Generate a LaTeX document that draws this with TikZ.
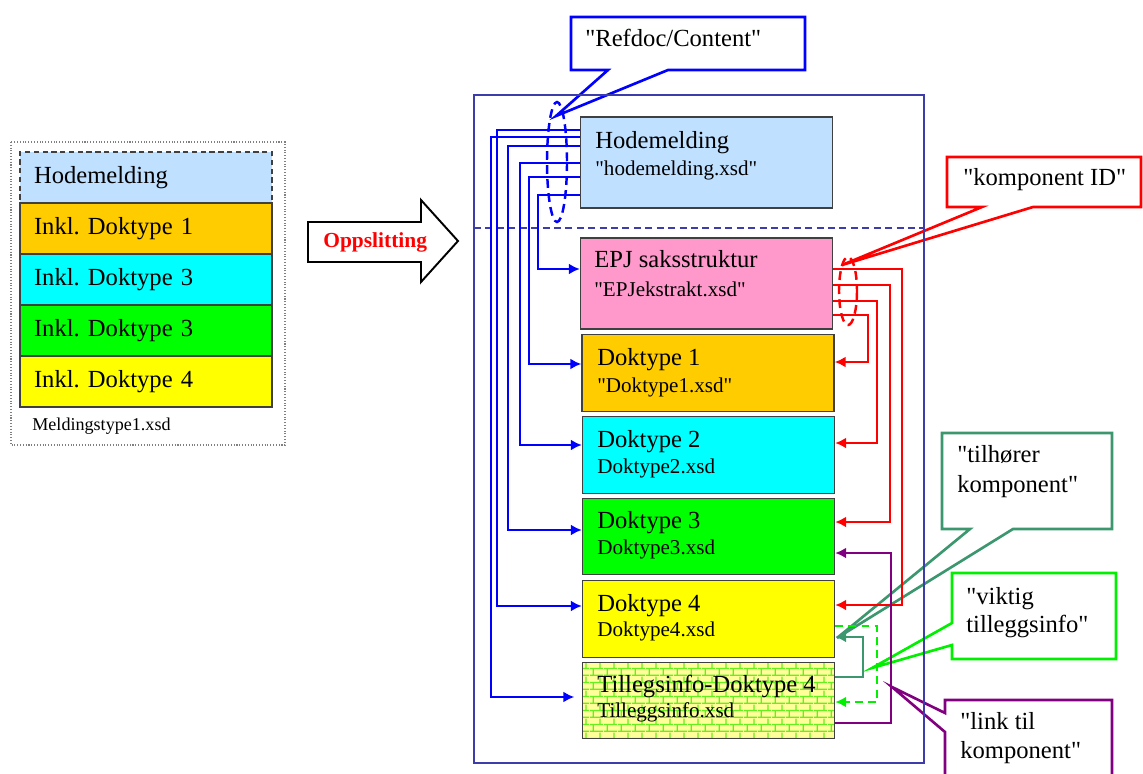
\documentclass[tikz,border=0pt]{standalone}
\usepackage{fontspec}
\setmainfont{Liberation Serif}[Ligatures=TeXOff]
\usetikzlibrary{arrows.meta,patterns.meta}

\definecolor{hodeblue}{RGB}{192,224,255}
\definecolor{epjpink}{RGB}{255,153,204}
\definecolor{dokorange}{RGB}{255,204,0}
\definecolor{dokcyan}{RGB}{0,255,255}
\definecolor{dokgreen}{RGB}{0,255,0}
\definecolor{dokyellow}{RGB}{255,255,0}
\definecolor{palebrick}{RGB}{255,255,153}
\definecolor{brickline}{RGB}{100,240,30}
\definecolor{frameblue}{RGB}{60,60,170}
\definecolor{linkblue}{RGB}{0,0,255}
\definecolor{linkred}{RGB}{255,0,0}
\definecolor{tealgreen}{RGB}{60,150,110}
\definecolor{infogreen}{RGB}{0,240,0}
\definecolor{linkpurple}{RGB}{128,0,128}

\tikzdeclarepattern{
  name=smallbricks,
  type=uncolored,
  bounding box={(0pt,0pt) and (8pt,8pt)},
  tile size={(8pt,8pt)},
  code={
    \draw[line width=0.8pt] (0pt,0.5pt) -- (8pt,0.5pt) (0pt,4.5pt) -- (8pt,4.5pt)
      (2pt,0.5pt) -- (2pt,4.5pt) (6pt,4.5pt) -- (6pt,8pt) (6pt,0pt) -- (6pt,0.5pt);
  }
}

\begin{document}
\begin{tikzpicture}[x=0.02cm,y=-0.02cm,>={Latex[length=2.2mm,width=2.2mm]},
  box/.style={draw=black!75,line width=0.8pt,inner sep=0pt,minimum width=5.04cm},
  lbox/.style={box,minimum height=1.02cm,text width=4.48cm,align=left,font=\fontsize{14}{16}\selectfont},
  rbox/.style={box,minimum height=1.53cm},
  ttl/.style={font=\fontsize{14}{16}\selectfont,inner sep=0pt,anchor=base west},
  sub/.style={font=\fontsize{12}{14}\selectfont,inner sep=0pt,anchor=base west},
  callout/.style={line width=1.5pt,fill=white},
  bluelink/.style={draw=linkblue,line width=1.6pt,->},
  redlink/.style={draw=linkred,line width=1.6pt,->}]
\useasboundingbox (0,0) rectangle (1143,774);

% callouts
\draw[callout,draw=linkblue] (571,17) -- (805,17) -- (805,70) -- (668,70) -- (556,116)
  -- (608,70) -- (571,70) -- cycle;
\draw[callout,draw=linkred] (947,157) -- (1141,157) -- (1141,207) -- (1033,207) -- (842,265)
  -- (982,207) -- (947,207) -- cycle;
\draw[callout,draw=tealgreen] (942,433) -- (1112,433) -- (1112,529) -- (1013,529) -- (837,638)
  -- (970,529) -- (942,529) -- cycle;
\draw[callout,draw=infogreen] (952,573) -- (1116,573) -- (1116,659) -- (952,659) -- (952,645)
  -- (872,668) -- (952,623) -- cycle;
\draw[line width=1.5pt,draw=linkpurple] (945,774) -- (945,732) -- (892,687) -- (945,713)
  -- (945,700) -- (1112,700) -- (1112,774);
\node[ttl] (cRef) at (585,47) {"Refdoc/Content"};
\node[ttl] (cId) at (963,185) {"komponent ID"};
\node[ttl] (cTil1) at (957,462) {"tilhører};
\node[ttl] (cTil2) at (957,492) {komponent"};
\node[ttl] (cVik1) at (966,604) {"viktig};
\node[ttl] (cVik2) at (966,632) {tilleggsinfo"};
\node[ttl] (cLink1) at (960,729) {"link til};
\node[ttl] (cLink2) at (960,758) {komponent"};

% left message
\draw[gray,densely dotted,line width=0.6pt] (11,142) rectangle (285,445);
\node[lbox,fill=hodeblue,dash pattern=on 3pt off 2pt] (lHode) at (146,177.5) {Hodemelding};
\node[lbox,fill=dokorange] (lDok1) at (146,228.5) {Inkl.\ Doktype 1};
\node[lbox,fill=dokcyan] (lDok2) at (146,279.5) {Inkl.\ Doktype 3};
\node[lbox,fill=dokgreen] (lDok3) at (146,330.5) {Inkl.\ Doktype 3};
\node[lbox,fill=dokyellow] (lDok4) at (146,381.5) {Inkl.\ Doktype 4};
\node[sub,font=\fontsize{10.3}{12}\selectfont] (lName) at (32,430) {Meldingstype1.xsd};

% split arrow
\draw[line width=1.1pt,fill=white] (308,222) -- (421,222) -- (421,200) -- (458,241)
  -- (421,282) -- (421,262) -- (308,262) -- cycle;
\node[ttl,font=\fontsize{12.2}{14}\selectfont\bfseries,text=red] (split) at (323,247) {Oppslitting};

% container
\draw[frameblue,line width=0.7pt] (474,95) rectangle (924,763);
\draw[frameblue,line width=0.7pt,dash pattern=on 4pt off 2.5pt] (474,228) -- (924,228);

% right boxes
\node[box,fill=hodeblue,minimum height=1.82cm] (hode) at (706.5,162.5) {};
\node[box,fill=epjpink,minimum height=1.82cm] (epj) at (706.5,283.5) {};
\node[rbox,fill=dokorange] (dok1) at (708,373) {};
\node[rbox,fill=dokcyan] (dok2) at (708.5,455) {};
\node[rbox,fill=dokgreen] (dok3) at (708.5,536.5) {};
\node[rbox,fill=dokyellow] (dok4) at (708.5,619) {};
\node[rbox,preaction={fill=palebrick},pattern=smallbricks,pattern color=brickline] (till) at (708.5,700.5) {};
\node[ttl] (hodeT) at (595,148) {Hodemelding};
\node[sub] (hodeS) at (595,175) {"hodemelding.xsd"};
\node[ttl] (epjT) at (594,267) {EPJ saksstruktur};
\node[sub] (epjS) at (594,296) {"EPJekstrakt.xsd"};
\node[ttl] (dok1T) at (597,365) {Doktype 1};
\node[sub] (dok1S) at (597,392) {"Doktype1.xsd"};
\node[ttl] (dok2T) at (597,447) {Doktype 2};
\node[sub] (dok2S) at (597,473) {Doktype2.xsd};
\node[ttl] (dok3T) at (597,528) {Doktype 3};
\node[sub] (dok3S) at (597,554) {Doktype3.xsd};
\node[ttl] (dok4T) at (597,611) {Doktype 4};
\node[sub] (dok4S) at (597,636) {Doktype4.xsd};
\node[ttl] (tillT) at (597,692) {Tillegsinfo-Doktype 4};
\node[sub] (tillS) at (597,717) {Tilleggsinfo.xsd};

% refdoc links
\coordinate (b1) at (538,195); \coordinate (b1e) at (538,269);
\coordinate (b2) at (529,177); \coordinate (b2e) at (529,364);
\coordinate (b3) at (520,163); \coordinate (b3e) at (520,445);
\coordinate (b4) at (508,146); \coordinate (b4e) at (508,530);
\coordinate (b5) at (497,130); \coordinate (b5e) at (497,606);
\coordinate (b6) at (491,137); \coordinate (b6e) at (491,697);
\draw[bluelink] (hode.west |- b1) -- (b1) -- (b1e) -- (epj.west |- b1e);
\draw[bluelink] (hode.west |- b2) -- (b2) -- (b2e) -- (dok1.west |- b2e);
\draw[bluelink] (hode.west |- b3) -- (b3) -- (b3e) -- (dok2.west |- b3e);
\draw[bluelink] (hode.west |- b4) -- (b4) -- (b4e) -- (dok3.west |- b4e);
\draw[bluelink] (hode.west |- b5) -- (b5) -- (b5e) -- (dok4.west |- b5e);
\draw[bluelink,shorten >=0.15cm] (hode.west |- b6) -- (b6) -- (b6e) -- (till.west |- b6e);
\draw[linkblue,line width=1.4pt,dash pattern=on 5pt off 3pt] (557,162) ellipse [x radius=10,y radius=60];

% komponent links
\coordinate (r1) at (902,269); \coordinate (r1e) at (902,605);
\coordinate (r2) at (890,285); \coordinate (r2e) at (890,522);
\coordinate (r3) at (877,301); \coordinate (r3e) at (877,443);
\coordinate (r4) at (868,315); \coordinate (r4e) at (868,362);
\draw[redlink] (epj.east |- r1) -- (r1) -- (r1e) -- (dok4.east |- r1e);
\draw[redlink] (epj.east |- r2) -- (r2) -- (r2e) -- (dok3.east |- r2e);
\draw[redlink] (epj.east |- r3) -- (r3) -- (r3e) -- (dok2.east |- r3e);
\draw[redlink] (epj.east |- r4) -- (r4) -- (r4e) -- (dok1.east |- r4e);
\draw[linkred,line width=1.4pt,dash pattern=on 5pt off 3pt] (848,291) ellipse [x radius=9,y radius=34];

% tillegg links
\coordinate (t1) at (863,677); \coordinate (t1e) at (863,637);
\coordinate (g1) at (877,626); \coordinate (g1e) at (877,702);
\coordinate (p1) at (891,723); \coordinate (p1e) at (891,553);
\draw[tealgreen,line width=1.6pt,->] (till.east |- t1) -- (t1) -- (t1e) -- (dok4.east |- t1e);
\draw[infogreen,line width=1.6pt,dash pattern=on 4.5pt off 3pt,->] (dok4.east |- g1) -- (g1) -- (g1e) -- (till.east |- g1e);
\draw[linkpurple,line width=1.6pt,->] (till.east |- p1) -- (p1) -- (p1e) -- (dok3.east |- p1e);
\end{tikzpicture}
\end{document}
